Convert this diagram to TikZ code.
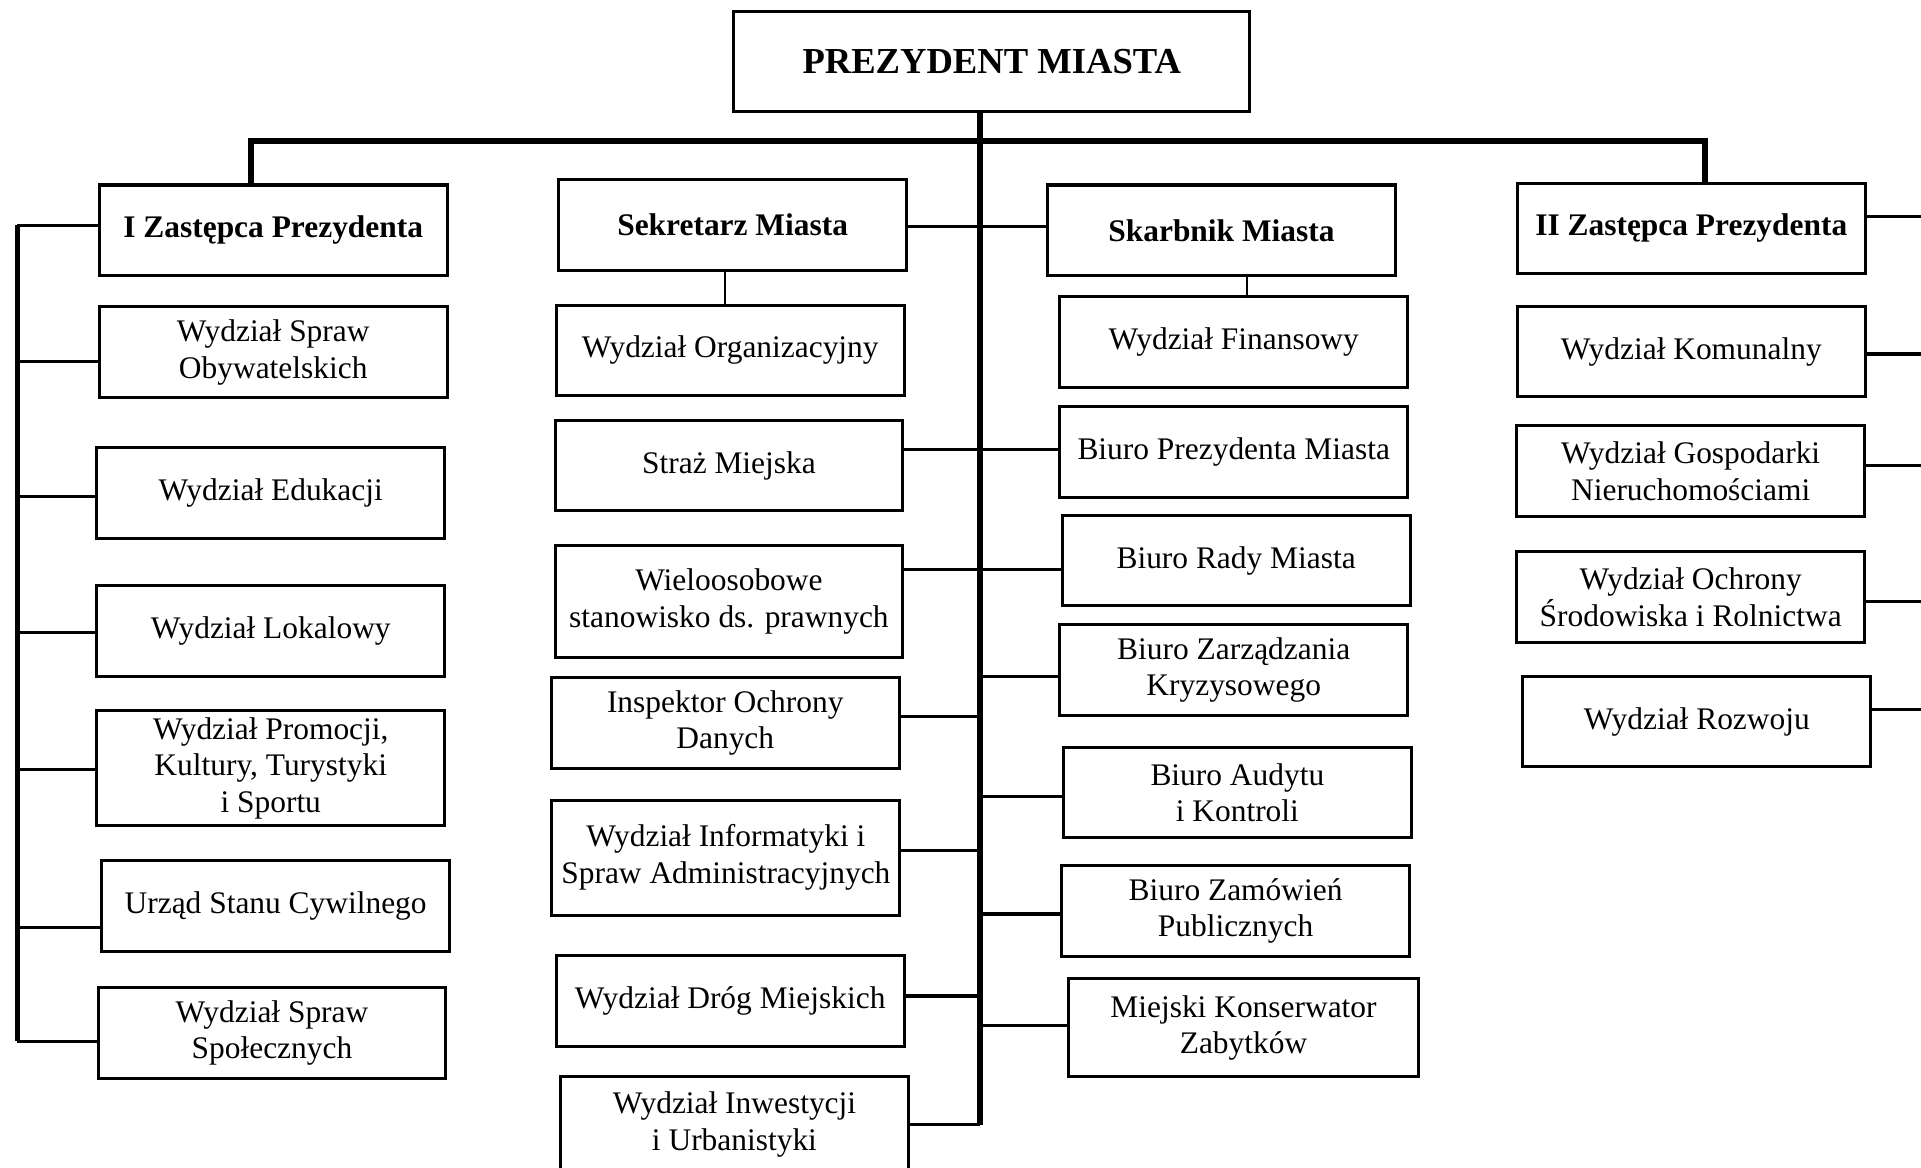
\documentclass[tikz,border=0pt]{standalone}
\usepackage{fontspec}
\setmainfont{Liberation Serif}
\usepackage{tikz}

\begin{document}
\begin{tikzpicture}[x=0.02cm,y=-0.02cm,
  box/.style={draw,line width=1.4pt,minimum width=5.68cm,minimum height=1.48cm,inner sep=0pt,align=center,font=\fontsize{14.6}{17}\selectfont},
  head/.style={box,font=\fontsize{14.6}{17}\selectfont\bfseries},
  bus/.style={line width=2.8pt},
  link/.style={line width=1.5pt},
  thinlink/.style={line width=0.9pt}]
\useasboundingbox (0,0) rectangle (1568,953);
\clip (0,0) rectangle (1568,953);

\node[draw,line width=1.4pt,minimum width=8.42cm,minimum height=1.64cm,inner sep=0pt,font=\fontsize{17}{20}\selectfont\bfseries] (prez) at (809.5,50) {PREZYDENT MIASTA};

\node[head] (z1) at (223,188) {I Zastępca Prezydenta};
\node[box] (c1a) at (223,287.5) {Wydział Spraw\\Obywatelskich};
\node[box] (c1b) at (221,402.5) {Wydział Edukacji};
\node[box] (c1c) at (221,515) {Wydział Lokalowy};
\node[box,minimum height=1.88cm] (c1d) at (221,627) {Wydział Promocji,\\Kultury, Turystyki\\i Sportu};
\node[box] (c1e) at (225,739.5) {Urząd Stanu Cywilnego};
\node[box] (c1f) at (222,843) {Wydział Spraw\\Społecznych};

\node[head] (sek) at (598,183.5) {Sekretarz Miasta};
\node[box] (org) at (596,286) {Wydział Organizacyjny};
\node[box] (straz) at (595,380) {Straż Miejska};
\node[box,minimum height=1.84cm] (wielo) at (595,491) {Wieloosobowe\\stanowisko ds. prawnych};
\node[box] (iod) at (592,590) {Inspektor Ochrony\\Danych};
\node[box,minimum height=1.88cm] (info) at (592.5,700) {Wydział Informatyki i\\Spraw Administracyjnych};
\node[box] (drog) at (596,817) {Wydział Dróg Miejskich};
\node[box,minimum height=1.56cm] (inw) at (599.5,918) {Wydział Inwestycji\\i Urbanistyki};

\node[head] (skar) at (997,188) {Skarbnik Miasta};
\node[box] (fin) at (1007,279) {Wydział Finansowy};
\node[box] (bpm) at (1007,369) {Biuro Prezydenta Miasta};
\node[box] (brm) at (1009,457.5) {Biuro Rady Miasta};
\node[box] (bzk) at (1007,547) {Biuro Zarządzania\\Kryzysowego};
\node[box] (bak) at (1010,647) {Biuro Audytu\\i Kontroli};
\node[box] (bzp) at (1008.5,743.5) {Biuro Zamówień\\Publicznych};
\node[box,minimum width=5.72cm,minimum height=1.6cm] (mkz) at (1015,839) {Miejski Konserwator\\Zabytków};

\node[head] (z2) at (1380.5,186.5) {II Zastępca Prezydenta};
\node[box] (kom) at (1380.5,287) {Wydział Komunalny};
\node[box] (gos) at (1380,384.5) {Wydział Gospodarki\\Nieruchomościami};
\node[box] (och) at (1380,487.5) {Wydział Ochrony\\Środowiska i Rolnictwa};
\node[box] (roz) at (1385,589) {Wydział Rozwoju};

\coordinate (spine) at (800,918);
\coordinate (busl) at (205,115);
\coordinate (busr) at (1392,115);
\draw[bus] (prez.south -| spine) -- (spine);
\draw[bus] (z1.north -| busl) -- (busl) -- (busr) -- (z2.north -| busr);

\draw[line width=2.4pt] (14,184) -- (14,850);
\foreach \n/\y in {z1/184,c1a/295,c1b/405,c1c/516,c1d/628,c1e/757,c1f/850}
  \draw[link] (\n.west |- 0,\y) -- (14,\y);

\foreach \n/\y in {sek/185,straz/367,wielo/465,iod/585,info/694,drog/813,inw/918}
  \draw[link] (\n.east |- 0,\y) -- (spine |- 0,\y);
\foreach \n/\y in {skar/185,bpm/367,brm/465,bzk/552,bak/650,bzp/746,mkz/837}
  \draw[link] (spine |- 0,\y) -- (\n.west |- 0,\y);

\foreach \n/\y in {z2/177,kom/289,gos/380,och/491,roz/579}
  \draw[link] (\n.east |- 0,\y) -- (1575,\y);

\draw[thinlink] (sek.south -| 592,0) -- (org.north -| 592,0);
\draw[thinlink] (skar.south -| 1018,0) -- (fin.north -| 1018,0);
\end{tikzpicture}
\end{document}
